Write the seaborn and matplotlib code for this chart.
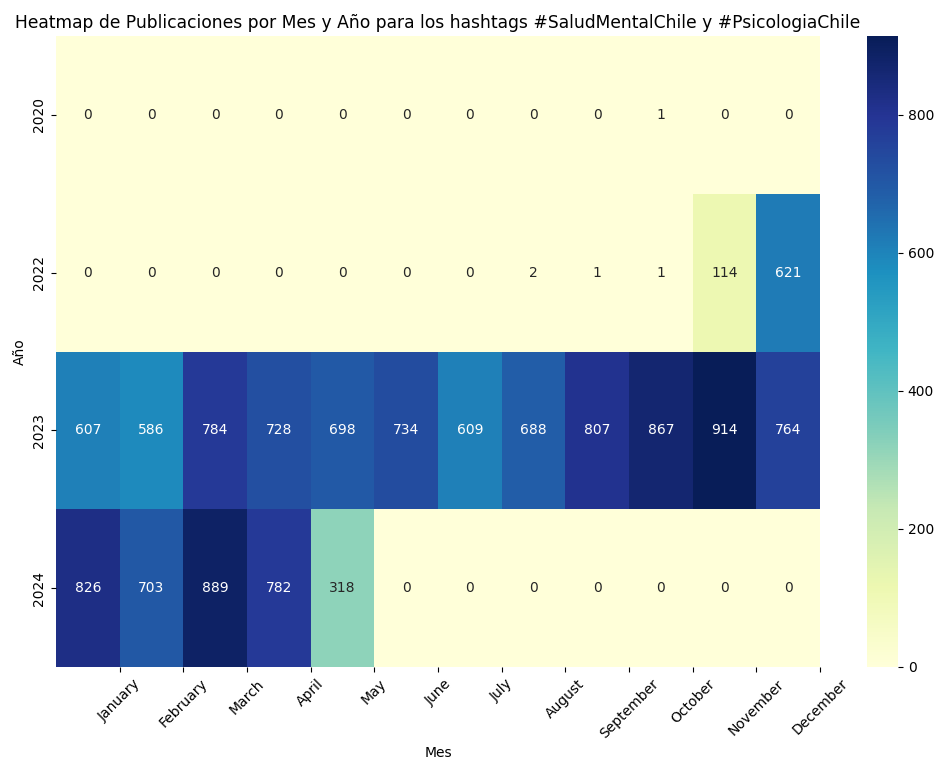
import matplotlib
matplotlib.use("Agg")
import matplotlib.pyplot as plt
import seaborn as sns
import pandas as pd

years = [2020, 2022, 2023, 2024]
months = ["January", "February", "March", "April", "May", "June", "July",
          "August", "September", "October", "November", "December"]

counts_2020 = [0, 0, 0, 0, 0, 0, 0, 0, 0, 1, 0, 0]
counts_2022 = [0, 0, 0, 0, 0, 0, 0, 2, 1, 1, 114, 621]
counts_2023 = [607, 586, 784, 728, 698, 734, 609, 688, 807, 867, 914, 764]
counts_2024 = [826, 703, 889, 782, 318, 0, 0, 0, 0, 0, 0, 0]

table = pd.DataFrame([counts_2020, counts_2022, counts_2023, counts_2024],
                     index=years, columns=range(1, 13))

fig = plt.figure(figsize=(9.37, 7.63), dpi=100)
ax = fig.add_axes([56 / 937, 1 - 667 / 763, (820 - 56) / 937, (667 - 36) / 763])
cax = fig.add_axes([867 / 937, 1 - 667 / 763, (898 - 867) / 937, (667 - 36) / 763])

sns.heatmap(table, annot=True, fmt="d", cmap="YlGnBu", ax=ax, cbar_ax=cax)

ax.set_title("Heatmap de Publicaciones por Mes y Año para los hashtags "
             "#SaludMentalChile y #PsicologiaChile", fontsize=12.3)
ax.set_xlabel("Mes")
ax.set_ylabel("Año")
ax.set_xticks(range(1, 13))
ax.set_xticklabels(months, rotation=45)

fig.savefig("out.png", dpi=100)
